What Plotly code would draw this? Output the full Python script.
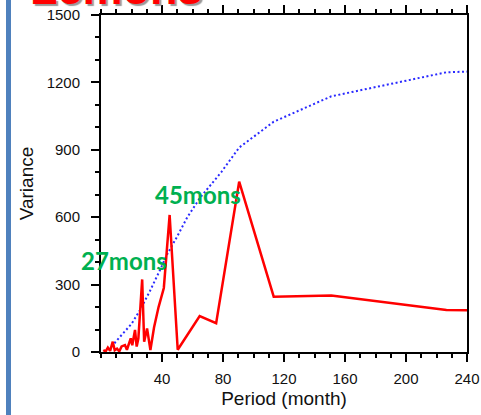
import plotly.graph_objects as go

# Power spectrum (red) and significance curve (blue) against period in months
spec_period = [1.5, 3, 4.5, 6, 7.7, 9, 10.5, 12, 13.5, 15.7, 17, 18.5, 19.5, 20.5,
               21.5, 22.3, 23.4, 24.5, 27, 28.3, 30.2, 32.4, 34.8, 37.75, 41.2, 45,
               50.3, 64.7, 75.5, 90.6, 113.25, 151, 226.5, 240]
spec_value = [9, 2, 20, 5, 46, 8, 15, 3, 25, 31, 10, 45, 61, 30,
              70, 98, 24, 60, 323, 46, 105, 9, 110, 200, 285, 610,
              10, 160, 128, 758, 246, 251, 187, 186]

sig_period = [2, 5.9, 12.5, 20, 25.6, 32, 38.7, 43, 50, 56.6, 64.7, 75.5, 79,
              90.6, 113.25, 151, 226.5, 240]
sig_value = [2, 16, 68, 125, 187, 270, 365, 430, 515, 600, 684, 770, 802,
             910, 1025, 1138, 1245, 1248]

peak_labels = ["27mons", "45mons"]
label_pos = [(14.8, 409), (63.8, 699)]

x_ticks = [40, 80, 120, 160, 200, 240]
y_ticks = [0, 300, 600, 900, 1200, 1500]

fig = go.Figure()
fig.add_trace(go.Scatter(x=sig_period, y=sig_value, mode="lines",
                         line=dict(color="#2a2aff", width=2, dash="2px,2.5px"),
                         showlegend=False))
fig.add_trace(go.Scatter(x=spec_period, y=spec_value, mode="lines",
                         line=dict(color="#ff0000", width=2.5),
                         showlegend=False))

for txt, (px, py) in zip(peak_labels, label_pos):
    fig.add_annotation(x=px, y=py, xref="x", yref="y", text=f"<b>{txt}</b>",
                       showarrow=False,
                       font=dict(family="Lato", size=24, color="#00b050"))

# slide heading, mostly above the top edge of the page
fig.add_annotation(x=-0.199, y=1.0, xref="paper", yref="paper", xanchor="left",
                   yanchor="bottom", yshift=-1, text="<b>Lemons</b>",
                   showarrow=False,
                   font=dict(family="Liberation Sans", size=45, color="#ff0000",
                             shadow="2px 2px 1px #999999"))

# blue accent bar on the left side
fig.add_shape(type="rect", xref="paper", yref="paper",
              x0=(6 - 101) / 366, x1=(11 - 101) / 366,
              y0=(352 - 420) / 337, y1=(352 + 5) / 337,
              fillcolor="#4f81bd", line=dict(width=0), layer="above")

axis_font = dict(family="Liberation Sans", size=15, color="#111111")
fig.update_xaxes(range=[0, 240], tickvals=x_ticks, ticks="outside", ticklen=8,
                 tickwidth=2, tickcolor="black", showline=True, linecolor="black",
                 linewidth=2, mirror="ticks", showgrid=False, zeroline=False,
                 tickfont=axis_font, ticklabelstandoff=4, automargin=False,
                 minor=dict(dtick=10, tick0=0, ticks="outside", ticklen=4,
                            tickwidth=1.5, tickcolor="black", showgrid=False),
                 title=dict(text="Period (month)", standoff=6,
                            font=dict(family="Liberation Sans", size=19,
                                      color="#111111")))
fig.update_yaxes(range=[0, 1500], tickvals=y_ticks, ticks="outside", ticklen=8,
                 tickwidth=2, tickcolor="black", showline=True, linecolor="black",
                 linewidth=2, mirror=True, showgrid=False, zeroline=False,
                 tickfont=axis_font, ticklabelstandoff=8, automargin=False,
                 minor=dict(dtick=100, tick0=0, ticks="outside", ticklen=4,
                            tickwidth=1.5, tickcolor="black", showgrid=False),
                 title=dict(text="Variance", standoff=8,
                            font=dict(family="Liberation Sans", size=19,
                                      color="#111111")))

fig.update_layout(width=481, height=415, margin=dict(l=101, r=14, t=15, b=63),
                  paper_bgcolor="white", plot_bgcolor="white")

fig.write_html("out.html")
